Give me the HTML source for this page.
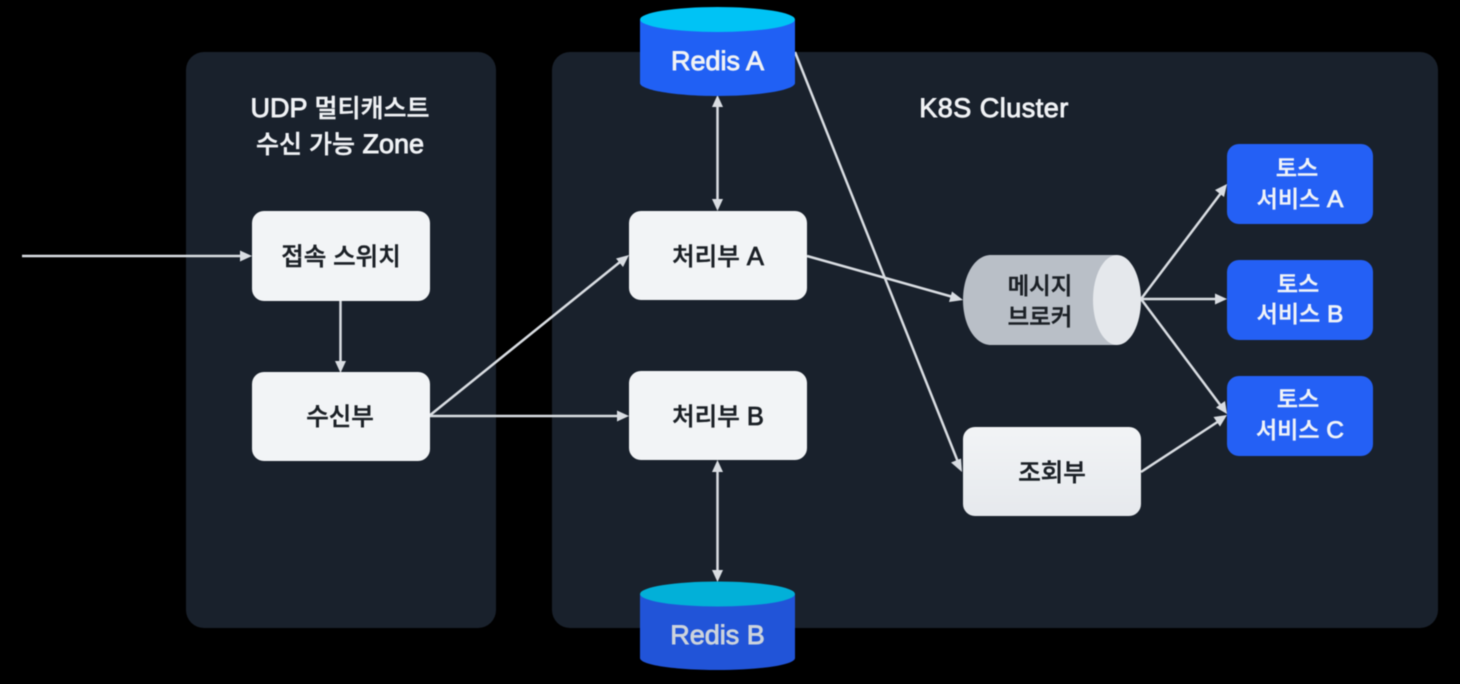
<!DOCTYPE html>
<html lang="ko">
<head>
<meta charset="utf-8">
<style>
html,body{margin:0;padding:0;background:#000;width:1460px;height:684px;overflow:hidden}
svg{display:block;filter:blur(0.4px)}
text{font-family:"Liberation Sans","Noto Sans CJK KR",sans-serif;font-weight:500;font-size:24px;text-anchor:middle;stroke-width:.45px}
.d{fill:#1b2026;stroke:#1b2026;font-size:24.500px}
.w{fill:#f0f2f5;stroke:#f0f2f5;font-size:25px}
.s{fill:#f0f3f8;stroke:#f0f3f8;font-size:23px}
.g{fill:#ccd3dc;stroke:#ccd3dc;font-size:25px}
.m{font-weight:400;stroke-width:.9px;font-size:27px}
.n{font-weight:400;stroke-width:.8px;font-size:25.500px}
.v{font-weight:400;stroke-width:.8px;font-size:24.500px}
.l{stroke:#d9dde2;stroke-width:2.5;fill:none}
.a{fill:#d9dde2}
</style>
</head>
<body>
<svg width="1460" height="684" viewBox="0 0 1460 684" xmlns="http://www.w3.org/2000/svg">
<defs>
<linearGradient id="g1" x1="0" y1="0" x2="0" y2="1"><stop offset="0" stop-color="#f2f4f6"/><stop offset="1" stop-color="#e6e9ed"/></linearGradient>
</defs>
<rect x="-5" y="-5" width="1470" height="694" fill="#000"/>
<rect x="186" y="52" width="310" height="576" rx="18" fill="#19212c"/>
<rect x="552" y="52" width="886" height="576" rx="18" fill="#19212c"/>

<text class="w" x="340" y="117"><tspan class="m">UDP </tspan>멀티캐스트</text>
<text class="w" x="340" y="153">수신 가능<tspan class="m"> Zone</tspan></text>
<text class="w" x="994" y="117"><tspan class="m" style="letter-spacing:.5px">K8S Cluster</tspan></text>

<!-- connectors -->
<g class="l">
<line x1="22" y1="256" x2="242" y2="256"/>
<line x1="340.500" y1="300" x2="340.500" y2="363"/>
<line x1="429" y1="416" x2="620" y2="262"/>
<line x1="429" y1="416" x2="619" y2="416"/>
<line x1="717.500" y1="104" x2="717.500" y2="202"/>
<line x1="717.500" y1="469" x2="717.500" y2="572"/>
<line x1="795" y1="52" x2="958" y2="462"/>
<line x1="807" y1="256" x2="953" y2="297"/>
<line x1="1141" y1="299" x2="1221" y2="193"/>
<line x1="1141" y1="299" x2="1218" y2="299"/>
<line x1="1141" y1="299" x2="1221" y2="406"/>
<line x1="1141" y1="472" x2="1219" y2="421"/>
</g>
<g class="a">
<polygon points="252,256 240,250.500 240,261.500"/>
<polygon points="340.500,373 335,361 346,361"/>
<polygon points="629,255 616,258.500 623,267"/>
<polygon points="629,416 617,410.500 617,421.500"/>
<polygon points="717.500,95 712,107 723,107"/>
<polygon points="717.500,211 712,199 723,199"/>
<polygon points="717.500,460 712,472 723,472"/>
<polygon points="717.500,582 712,570 723,570"/>
<polygon points="962,472 961,458.500 951,462.500"/>
<polygon points="963,300 952,291.500 949,302"/>
<polygon points="1227,184 1215,190 1224,197"/>
<polygon points="1227,299 1215,293.500 1215,304.500"/>
<polygon points="1227,414 1216,407.500 1225,401"/>
<polygon points="1227,415 1213.500,417 1220,426.500"/>
</g>

<!-- white nodes -->
<g fill="#f2f4f6">
<rect x="252" y="211" width="178" height="90" rx="12"/>
<rect x="252" y="372" width="178" height="89" rx="12"/>
<rect x="629" y="211" width="178" height="89" rx="12"/>
<rect x="629" y="371" width="178" height="89" rx="12"/>
<rect x="963" y="427" width="178" height="89" rx="12" fill="url(#g1)"/>
</g>
<text class="d" x="341" y="265">접속 스위치</text>
<text class="d" x="340" y="425">수신부</text>
<text class="d" x="718" y="265">처리부<tspan class="n"> A</tspan></text>
<text class="d" x="718" y="425">처리부<tspan class="n"> B</tspan></text>
<text class="d" x="1052" y="481">조회부</text>

<!-- Redis A -->
<path d="M640 20 V83 C640 90 675 96 717.500 96 C760 96 795 90 795 83 V20 Z" fill="#2060f4"/>
<ellipse cx="717.500" cy="19.500" rx="77.500" ry="12.500" fill="#00c3f5"/>
<text class="w" x="717.500" y="70"><tspan class="m">Redis A</tspan></text>

<!-- Redis B -->
<path d="M640 594 V658 C640 665 675 670 717.500 670 C760 670 795 665 795 658 V594 Z" fill="#2154d8"/>
<ellipse cx="717.500" cy="594" rx="77.500" ry="12.500" fill="#02b0d8"/>
<text class="g" x="717.500" y="644"><tspan class="m">Redis B</tspan></text>

<!-- Message broker -->
<path d="M991 255 H1117 V345 H991 C975 345 963 325 963 300 C963 275 975 255 991 255 Z" fill="#b9bfc7"/>
<ellipse cx="1117" cy="300" rx="24" ry="45" fill="#e5e8ec"/>
<text class="d" x="1040" y="294" style="font-size:23.500px">메시지</text>
<text class="d" x="1040" y="325" style="font-size:23.500px">브로커</text>

<!-- Toss services -->
<g fill="#2460f5">
<rect x="1227" y="144" width="146" height="80" rx="12"/>
<rect x="1227" y="260" width="146" height="80" rx="12"/>
<rect x="1227" y="376" width="146" height="80" rx="12"/>
</g>
<text class="s" x="1297" y="176">토스</text>
<text class="s" x="1300" y="207">서비스<tspan class="v"> A</tspan></text>
<text class="s" x="1298" y="292">토스</text>
<text class="s" x="1300" y="322">서비스<tspan class="v"> B</tspan></text>
<text class="s" x="1298" y="407">토스</text>
<text class="s" x="1300" y="438">서비스<tspan class="v"> C</tspan></text>
</svg>
</body>
</html>
